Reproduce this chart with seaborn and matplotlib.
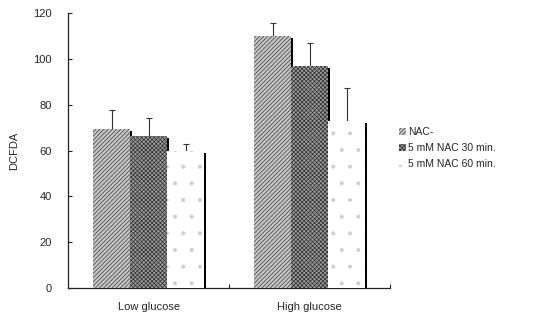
import matplotlib
matplotlib.use("Agg")
import matplotlib.pyplot as plt
import seaborn as sns
import pandas as pd
import numpy as np
from matplotlib.patches import Rectangle, Patch

groups = ["Low glucose", "High glucose"]
treatments = ["NAC-", "5 mM NAC 30 min.", "5 mM NAC 60 min."]
means_low = [69.5, 66.5, 60.0]
means_high = [110.0, 97.0, 73.0]
sd_low = [8.0, 7.5, 2.8]
sd_high = [5.5, 10.0, 14.5]
yticks = [0, 20, 40, 60, 80, 100, 120]

rows = []
for g, ms, ss in [(groups[0], means_low, sd_low), (groups[1], means_high, sd_high)]:
    for t, m, s in zip(treatments, ms, ss):
        rows.append({"group": g, "treatment": t, "DCFDA": m, "sd": s})
df = pd.DataFrame(rows)

sns.set_style("white")
plt.rcParams['font.family'] = ['Liberation Sans', 'DejaVu Sans']
plt.rcParams['hatch.linewidth'] = 0.5

fig = plt.figure(figsize=(5.33, 3.2), dpi=100)
ax = fig.add_axes([0.128, 0.1, 0.604, 0.859])

faces = ["#c4c4c4", "#9a9a9a", "#ffffff"]
hatch_cols = ["#404040", "#303030", "#cfcfcf"]
hatches = ["////////", "xxxxxxxx", "."]

sns.barplot(data=df, x="group", y="DCFDA", hue="treatment", order=groups,
            hue_order=treatments, width=0.69, errorbar=None, ax=ax,
            palette=faces, legend=False, saturation=1)

bar_containers = list(ax.containers)
for i, cont in enumerate(bar_containers):
    sub = df[df.treatment == treatments[i]].set_index("group").loc[groups]
    xs = []
    for bar in cont:
        bar.set_facecolor(faces[i])
        bar.set_hatch(hatches[i])
        bar.set_edgecolor(hatch_cols[i])
        bar.set_linewidth(0)
        bar.set_zorder(3)
        x, y0 = bar.get_x(), bar.get_y()
        w, h = bar.get_width(), bar.get_height()
        sh = Rectangle((x + 0.012, y0), w, h - 1.0, facecolor="black",
                       edgecolor="none", zorder=2)
        ax.add_patch(sh)
        xs.append(x + w / 2)
    ax.errorbar(xs, sub["DCFDA"].values,
                yerr=[np.zeros(len(xs)), sub["sd"].values],
                fmt="none", ecolor="#333333", elinewidth=0.8, capsize=2.5,
                capthick=0.8, zorder=1)

ax.set_xlim(-0.5, 1.5)
ax.set_ylim(0, 120)
ax.set_yticks(yticks)
ax.tick_params(axis="y", direction="in", length=3, width=0.8,
               labelsize=8, pad=12, left=True)
ax.set_xticks([0, 1])
ax.set_xticklabels(groups, fontsize=8)
ax.tick_params(axis="x", length=0, pad=10)
ax.set_xticks([0.5, 1.5], minor=True)
ax.tick_params(axis="x", which="minor", direction="in", length=3, width=0.8,
               bottom=True)
ax.set_xlabel("")
ax.set_ylabel("DCFDA", fontsize=8, labelpad=10)
for s in ["top", "right"]:
    ax.spines[s].set_visible(False)
for s in ["left", "bottom"]:
    ax.spines[s].set_color("#222222")
    ax.spines[s].set_linewidth(0.9)

handles = [Patch(facecolor=faces[i], edgecolor=hatch_cols[i], hatch=hatches[i],
                 linewidth=0) for i in range(3)]
fig.legend(handles, treatments, loc="upper left", bbox_to_anchor=(0.74, 0.615),
           frameon=False, fontsize=7.5, handlelength=0.7, handleheight=0.7,
           handletextpad=0.2, labelspacing=0.55, borderaxespad=0)

fig.savefig("out.png", dpi=100)
